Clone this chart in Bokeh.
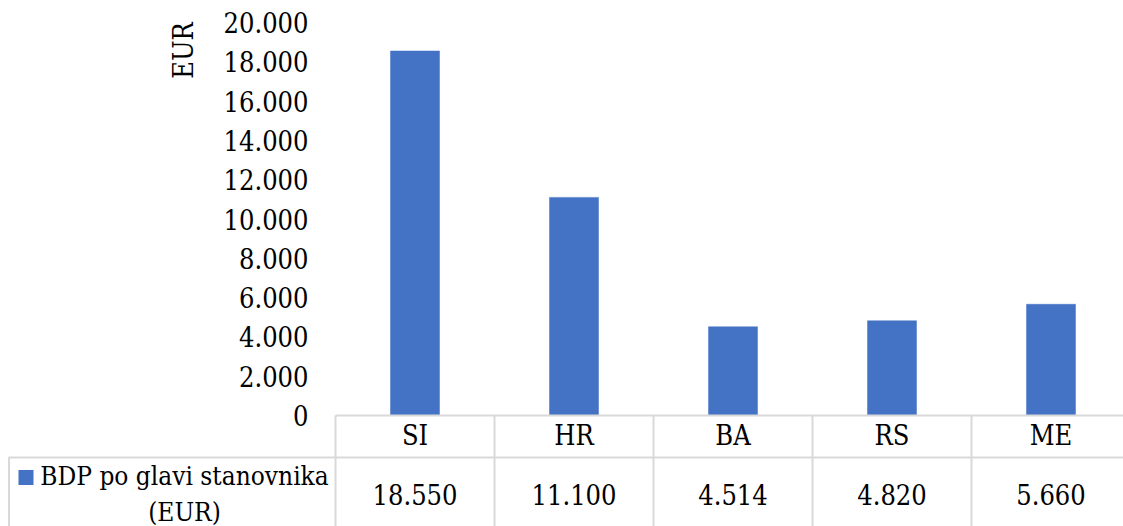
from bokeh.plotting import figure
from bokeh.models import Range1d
from bokeh.core.properties import value
from bokeh.embed import file_html
from bokeh.resources import INLINE

# ---- data ----
categories = ["SI", "HR", "BA", "RS", "ME"]
gdp_per_capita = [18550, 11100, 4514, 4820, 5660]
y_ticks = [0, 2000, 4000, 6000, 8000, 10000, 12000, 14000, 16000, 18000, 20000]
series_name = "BDP po glavi stanovnika\n(EUR)"
y_title = "EUR"


def fmt(n):
    return f"{n:,}".replace(",", ".")


# ---- layout (page pixels) ----
W, H = 1123, 526
X0, COLW = 335, 159          # left of first category column, column width
Y0, PXV = 415, 393 / 20000   # baseline pixel, pixels per EUR


def u(px):   # page x -> data x
    return (px - X0) / COLW


def v(py):   # page y -> data y
    return (Y0 - py) / PXV


FONT = value("'DejaVu Serif Condensed', 'Liberation Serif', serif")
FS = "27px"
GRID = "#D9D9D9"
BLUE = "#4472C4"

p = figure(width=W, height=H, output_backend="svg", toolbar_location=None,
           x_range=Range1d(u(0), u(W)), y_range=Range1d(v(H), v(0)),
           x_axis_location=None, y_axis_location=None, min_border=0)
p.outline_line_color = None
p.border_fill_color = "white"
p.xgrid.visible = False
p.ygrid.visible = False

n = len(categories)
xc = [i + 0.5 for i in range(n)]

# bars
p.vbar(x=xc, top=gdp_per_capita, bottom=0, width=49 / COLW,
       fill_color=BLUE, line_color=BLUE, line_width=0.5)

# table lines
right = u(W)
bottom = v(H)
hy = [0, v(457)]
p.segment(x0=[0, u(8)], y0=hy, x1=[right, right], y1=hy, line_color=GRID, line_width=2,
          line_cap="butt")
vx = list(range(n))
p.segment(x0=vx, y0=[0] * len(vx), x1=vx, y1=[bottom] * len(vx), line_color=GRID,
          line_width=2, line_cap="butt")
p.segment(x0=[u(8.5)], y0=[v(457)], x1=[u(8.5)], y1=[bottom], line_color=GRID, line_width=2,
          line_cap="butt")

TXT = dict(text_font=FONT, text_baseline="middle", text_color="#000000")

# y tick labels
p.text(x=[u(308)] * len(y_ticks), y=y_ticks, text=[fmt(t) for t in y_ticks],
       text_align="right", text_font_size=FS, **TXT)

# y title
p.text(x=[u(182.5)], y=[v(50)], text=[y_title], angle=1.5707963, text_align="center",
       text_font_size=FS, **TXT)

# category labels
p.text(x=xc, y=[v(435)] * n, text=categories, text_align="center", text_font_size=FS, **TXT)

# values row
p.text(x=xc, y=[v(494)] * n, text=[fmt(g) for g in gdp_per_capita], text_align="center",
       text_font_size=FS, **TXT)

# row header with legend key
p.scatter(x=[u(25.5)], y=[v(477)], marker="square", size=15, fill_color=BLUE, line_color=None)
p.text(x=[u(184)], y=[v(493)], text=[series_name], text_align="center",
       text_line_height=1.2, text_font_size="26px", **TXT)

open("out.html", "w").write(file_html(p, INLINE))
